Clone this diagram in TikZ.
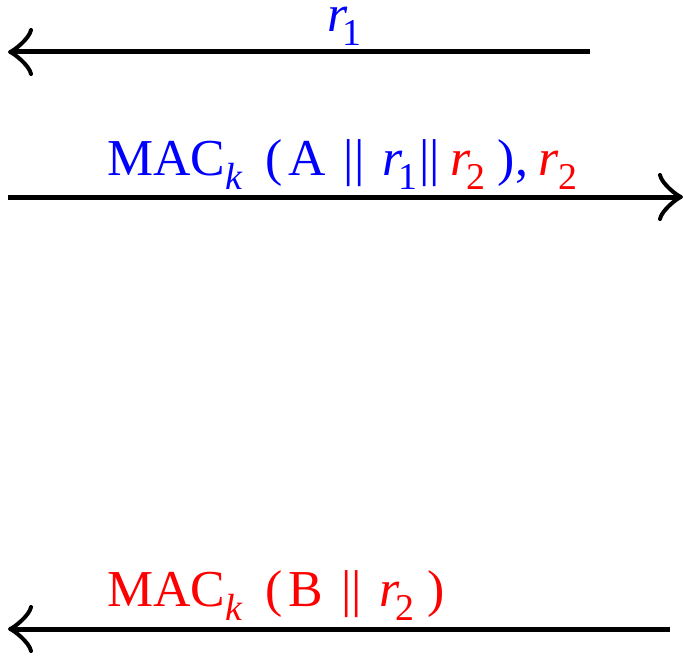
\documentclass[tikz,border=0pt]{standalone}
\usepackage{fontspec}
\setmainfont{Liberation Serif}
\usepackage{tikz}
\usetikzlibrary{arrows.meta,positioning}
\definecolor{keyblue}{RGB}{0,0,255}
\definecolor{keyred}{RGB}{255,0,0}
\newcommand{\lowsub}[1]{\raisebox{-14bp}{\fontsize{38}{40}\selectfont #1}}
\newcommand{\rr}[1]{\textit{r}\kern-5bp\lowsub{#1}}
\newcommand{\mack}{MAC\lowsub{\textit{k}}}
\newcommand{\bars}{\textbar\textbar}
\tikzset{
  msg/.style={-{Classical TikZ Rightarrow[length=25bp,width=48bp,line width=4bp]}, line width=5bp, draw=black},
  lbl/.style={inner sep=0pt, anchor=base west, font=\fontsize{52}{60}\selectfont},
}

\begin{document}
\begin{tikzpicture}[x=1bp, y=-1bp]
\useasboundingbox (0,0) rectangle (683,656);
% endpoints of the three messages
\coordinate (m1r) at (590,52);
\coordinate (m1l) at (8,52);
\coordinate (m2l) at (8,197);
\coordinate (m2r) at (683,197);
\coordinate (m3r) at (670,629);
\coordinate (m3l) at (8,629);
\draw[msg] (m1r) -- (m1l);
\draw[msg] (m2l) -- (m2r);
\draw[msg] (m3r) -- (m3l);
% labels
\node[lbl, text=keyblue, text height=26bp] (t1) at (327,32) {\rr{1}};
\node[lbl, text=keyblue] (t2) at (107,175) {\mack\hspace{0.45em}(\hspace{0.1em}A\hspace{0.35em}\bars\hspace{0.35em}\rr{1}\hspace{0.05em}\bars\hspace{0.2em}\textcolor{keyred}{\rr{2}}\hspace{0.25em}),\hspace{0.2em}\textcolor{keyred}{\textit{r}\lowsub{2}}};
\node[lbl, text=keyred] (t3) at (107,606) {\mack\hspace{0.45em}(\hspace{0.1em}B\hspace{0.35em}\bars\hspace{0.35em}\rr{2}\hspace{0.25em})};
\end{tikzpicture}
\end{document}
